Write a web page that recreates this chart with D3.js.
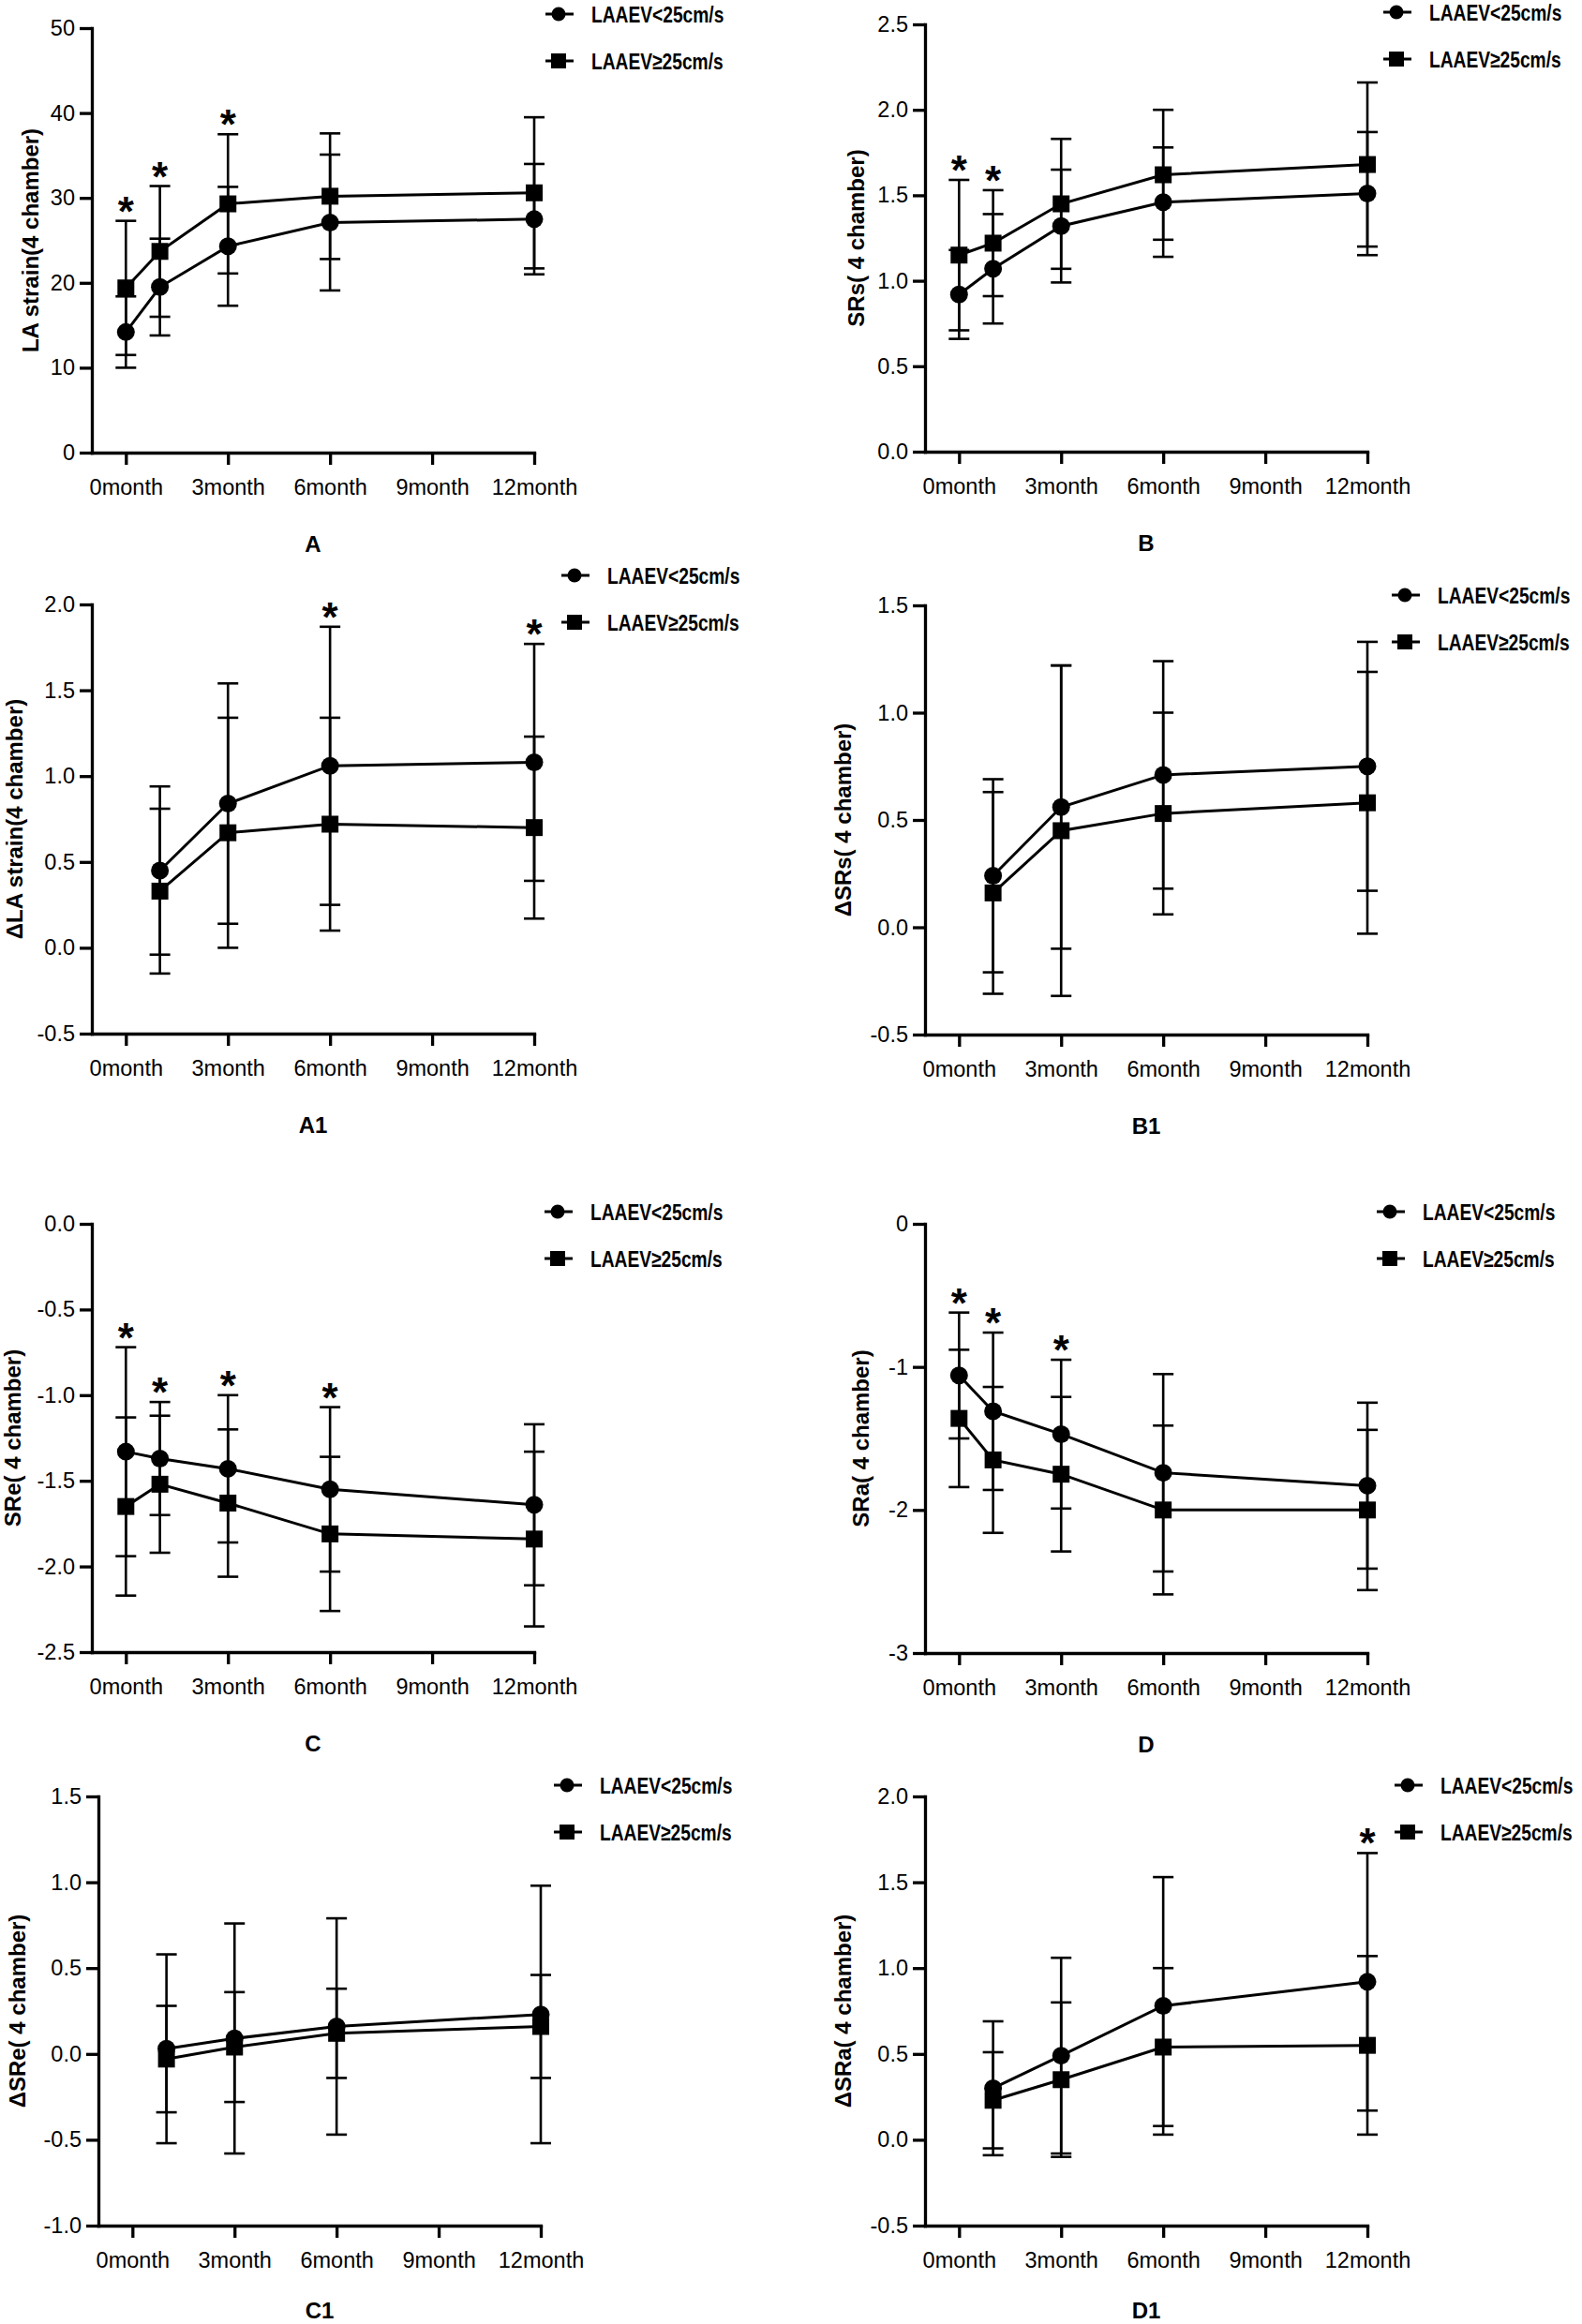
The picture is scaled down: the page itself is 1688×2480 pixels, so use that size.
<!DOCTYPE html>
<html><head><meta charset="utf-8">
<script src="https://cdn.jsdelivr.net/npm/d3@7"></script>
<style>body{margin:0;background:#fff}</style>
</head><body><svg id="chart" width="1688" height="2480" xmlns="http://www.w3.org/2000/svg"></svg>
<script>
// ---------- data ----------
const tickMonths = [0, 3, 6, 9, 12];
const tickLabels = ["0month", "3month", "6month", "9month", "12month"];
const seriesNames = ["LAAEV<25cm/s", "LAAEV\u226525cm/s"];
const monthsFull = [0, 1, 3, 6, 12];
const monthsDelta = [1, 3, 6, 12];

// A: LA strain
const A_low = [14.2, 19.5, 24.3, 27.1, 27.5];
const A_lowSD = [4.2, 5.7, 7.0, 8.0, 6.5];
const A_high = [19.4, 23.7, 29.3, 30.2, 30.6];
const A_highSD = [7.9, 7.7, 8.2, 7.4, 8.9];
const A_sig = [1, 1, 1, 0, 0];
const A_yTicks = [0, 10, 20, 30, 40, 50];

// B: SRs
const B_low = [0.92, 1.07, 1.32, 1.46, 1.51];
const B_lowSD = [0.26, 0.32, 0.33, 0.32, 0.36];
const B_high = [1.15, 1.22, 1.45, 1.62, 1.68];
const B_highSD = [0.44, 0.31, 0.38, 0.38, 0.48];
const B_sig = [1, 1, 0, 0, 0];
const B_yTicks = [0, 0.5, 1.0, 1.5, 2.0, 2.5];

// A1: delta LA strain
const A1_low = [0.45, 0.84, 1.06, 1.08];
const A1_lowSD = [0.49, 0.70, 0.81, 0.69];
const A1_high = [0.33, 0.67, 0.72, 0.70];
const A1_highSD = [0.48, 0.67, 0.62, 0.53];
const A1_sig = [0, 0, 1, 1];
const A1_yTicks = [-0.5, 0, 0.5, 1.0, 1.5, 2.0];

// B1: delta SRs
const B1_low = [0.24, 0.56, 0.71, 0.75];
const B1_lowSD = [0.45, 0.66, 0.53, 0.58];
const B1_high = [0.16, 0.45, 0.53, 0.58];
const B1_highSD = [0.47, 0.77, 0.47, 0.61];
const B1_sig = [0, 0, 0, 0];
const B1_yTicks = [-0.5, 0, 0.5, 1.0, 1.5];

// C: SRe
const C_low = [-1.33, -1.37, -1.43, -1.55, -1.64];
const C_lowSD = [0.61, 0.33, 0.43, 0.48, 0.47];
const C_high = [-1.65, -1.52, -1.63, -1.81, -1.84];
const C_highSD = [0.52, 0.40, 0.43, 0.45, 0.51];
const C_sig = [1, 1, 1, 1, 0];
const C_yTicks = [-2.5, -2.0, -1.5, -1.0, -0.5, 0];

// D: SRa
const D_low = [-1.06, -1.31, -1.47, -1.74, -1.83];
const D_lowSD = [0.44, 0.55, 0.52, 0.69, 0.58];
const D_high = [-1.36, -1.65, -1.75, -2.00, -2.00];
const D_highSD = [0.48, 0.51, 0.54, 0.59, 0.56];
const D_sig = [1, 1, 1, 0, 0];
const D_yTicks = [-3, -2, -1, 0];

// C1: delta SRe
const C1_low = [0.03, 0.09, 0.16, 0.23];
const C1_lowSD = [0.55, 0.67, 0.63, 0.75];
const C1_high = [-0.03, 0.04, 0.12, 0.16];
const C1_highSD = [0.31, 0.32, 0.26, 0.30];
const C1_sig = [0, 0, 0, 0];
const C1_yTicks = [-1.0, -0.5, 0, 0.5, 1.0, 1.5];

// D1: delta SRa
const D1_low = [0.30, 0.49, 0.78, 0.92];
const D1_lowSD = [0.39, 0.57, 0.75, 0.75];
const D1_high = [0.23, 0.35, 0.54, 0.55];
const D1_highSD = [0.28, 0.45, 0.46, 0.52];
const D1_sig = [0, 0, 0, 1];
const D1_yTicks = [-0.5, 0, 0.5, 1.0, 1.5, 2.0];

// ---------- panel definitions ----------
const f1 = v => d3.format(".1f")(v).replace("\u2212", "-");
const f0 = v => d3.format("d")(v).replace("\u2212", "-");

const panels = [
  {letter: "A", ylabel: "LA strain(4 chamber)", months: monthsFull, low: A_low, lowSD: A_lowSD, high: A_high, highSD: A_highSD, sig: A_sig, yTicks: A_yTicks, fmt: f0,
   L: {axisX: 98, yTop: 30, yBot: 483, legDX: 498, legDY: -15, ylabDX: -65, letDY: 97}},
  {letter: "B", ylabel: "SRs( 4 chamber)", months: monthsFull, low: B_low, lowSD: B_lowSD, high: B_high, highSD: B_highSD, sig: B_sig, yTicks: B_yTicks, fmt: f1,
   L: {axisX: 987, yTop: 26, yBot: 482, legDX: 503, legDY: -13, ylabDX: -73, letDY: 97}},
  {letter: "A1", ylabel: "\u0394LA strain(4 chamber)", months: monthsDelta, low: A1_low, lowSD: A1_lowSD, high: A1_high, highSD: A1_highSD, sig: A1_sig, yTicks: A1_yTicks, fmt: f1,
   L: {axisX: 98, yTop: 645, yBot: 1103, legDX: 515, legDY: -31, ylabDX: -82, letDY: 97}},
  {letter: "B1", ylabel: "\u0394SRs( 4 chamber)", months: monthsDelta, low: B1_low, lowSD: B1_lowSD, high: B1_high, highSD: B1_highSD, sig: B1_sig, yTicks: B1_yTicks, fmt: f1,
   L: {axisX: 987, yTop: 646, yBot: 1104, legDX: 512, legDY: -11, ylabDX: -87, letDY: 97}},
  {letter: "C", ylabel: "SRe( 4 chamber)", months: monthsFull, low: C_low, lowSD: C_lowSD, high: C_high, highSD: C_highSD, sig: C_sig, yTicks: C_yTicks, fmt: f1,
   L: {axisX: 98, yTop: 1306, yBot: 1763, legDX: 497, legDY: -13, ylabDX: -84, letDY: 97}},
  {letter: "D", ylabel: "SRa( 4 chamber)", months: monthsFull, low: D_low, lowSD: D_lowSD, high: D_high, highSD: D_highSD, sig: D_sig, yTicks: D_yTicks, fmt: f0,
   L: {axisX: 987, yTop: 1306, yBot: 1764, legDX: 496, legDY: -13, ylabDX: -68, letDY: 97}},
  {letter: "C1", ylabel: "\u0394SRe( 4 chamber)", months: monthsDelta, low: C1_low, lowSD: C1_lowSD, high: C1_high, highSD: C1_highSD, sig: C1_sig, yTicks: C1_yTicks, fmt: f1,
   L: {axisX: 105, yTop: 1917, yBot: 2375, legDX: 500, legDY: -12, ylabDX: -86, letDY: 90}},
  {letter: "D1", ylabel: "\u0394SRa( 4 chamber)", months: monthsDelta, low: D1_low, lowSD: D1_lowSD, high: D1_high, highSD: D1_highSD, sig: D1_sig, yTicks: D1_yTicks, fmt: f1,
   L: {axisX: 987, yTop: 1917, yBot: 2375, legDX: 515, legDY: -12, ylabDX: -87, letDY: 90}}
];

// ---------- drawing ----------
const svg = d3.select("#chart");
svg.append("rect").attr("width", 1688).attr("height", 2480).attr("fill", "#fff");

const FONT = "'Liberation Sans', Arial, Helvetica, sans-serif";
const PLOT_W = 472, TICK = 13, AXW = 3.3, LW = 3, EBW = 2.6, CAP = 11, CR = 9.5, SQ = 18;

function drawMarker(g, type, cx, cy, r, s) {
  if (type === 0) g.append("circle").attr("cx", cx).attr("cy", cy).attr("r", r).attr("fill", "#000");
  else g.append("rect").attr("x", cx - s / 2).attr("y", cy - s / 2).attr("width", s).attr("height", s).attr("fill", "#000");
}

panels.forEach(p => {
  const L = p.L;
  const g = svg.append("g");
  const x = d3.scaleLinear().domain([-1, 12]).range([L.axisX, L.axisX + PLOT_W]);
  const yMin = d3.min(p.yTicks), yMax = d3.max(p.yTicks);
  const y = d3.scaleLinear().domain([yMin, yMax]).range([L.yBot, L.yTop]);

  // axes
  const yAxis = d3.axisLeft(y).tickValues(p.yTicks).tickFormat(p.fmt).tickSize(TICK).tickSizeOuter(0).tickPadding(5);
  const xAxis = d3.axisBottom(x).tickValues(tickMonths).tickFormat((d, i) => tickLabels[i]).tickSize(TICK).tickSizeOuter(0).tickPadding(15);
  const gx = g.append("g").attr("transform", `translate(0,${L.yBot})`).call(xAxis);
  const gy = g.append("g").attr("transform", `translate(${L.axisX},0)`).call(yAxis);
  [gx, gy].forEach(a => {
    a.attr("font-family", FONT).attr("font-size", 23.5);
    a.select(".domain").attr("stroke", "#000").attr("stroke-width", AXW).attr("stroke-linecap", "square");
    a.selectAll(".tick line").attr("stroke", "#000").attr("stroke-width", AXW);
    a.selectAll(".tick text").attr("fill", "#000");
  });

  // series
  const series = [
    {mean: p.low, sd: p.lowSD, type: 0},
    {mean: p.high, sd: p.highSD, type: 1}
  ];
  // error bars
  series.forEach(s => {
    s.mean.forEach((m, i) => {
      const cx = x(p.months[i]);
      const yu = y(m + s.sd[i]), yl = y(m - s.sd[i]);
      g.append("line").attr("x1", cx).attr("x2", cx).attr("y1", yu).attr("y2", yl)
        .attr("stroke", "#000").attr("stroke-width", EBW);
      [yu, yl].forEach(yy => g.append("line").attr("x1", cx - CAP).attr("x2", cx + CAP).attr("y1", yy).attr("y2", yy)
        .attr("stroke", "#000").attr("stroke-width", EBW));
    });
  });
  // lines + markers
  series.forEach(s => {
    const line = d3.line().x((d, i) => x(p.months[i])).y(d => y(d));
    g.append("path").attr("d", line(s.mean)).attr("fill", "none").attr("stroke", "#000").attr("stroke-width", LW);
    s.mean.forEach((m, i) => drawMarker(g, s.type, x(p.months[i]), y(m), CR, SQ));
  });

  // significance asterisks
  p.sig.forEach((sg, i) => {
    if (!sg) return;
    const top = Math.max(p.low[i] + p.lowSD[i], p.high[i] + p.highSD[i]);
    g.append("text").attr("x", x(p.months[i])).attr("y", y(top) - 19 + 24)
      .attr("text-anchor", "middle").attr("font-family", FONT).attr("font-weight", "bold")
      .attr("font-size", 44).attr("fill", "#000").text("*");
  });

  // y label
  const yc = (L.yTop + L.yBot) / 2, xc = L.axisX + L.ylabDX;
  g.append("text").attr("transform", `translate(${xc},${yc}) rotate(-90)`)
    .attr("text-anchor", "middle").attr("dy", "0.35em")
    .attr("font-family", FONT).attr("font-weight", "bold").attr("font-size", 24).attr("fill", "#000")
    .text(p.ylabel);

  // legend (condensed bold text)
  const lx = L.axisX + L.legDX, ly = L.yTop + L.legDY;
  series.forEach((s, k) => {
    const yy = ly + k * 50;
    g.append("line").attr("x1", lx - 14).attr("x2", lx + 16).attr("y1", yy).attr("y2", yy)
      .attr("stroke", "#000").attr("stroke-width", LW);
    drawMarker(g, s.type, lx, yy, 7.5, 16);
    g.append("text").attr("transform", `translate(${lx + 35},${yy}) scale(0.8,1)`).attr("dy", "0.36em")
      .attr("font-family", FONT).attr("font-weight", "bold").attr("font-size", 24).attr("fill", "#000")
      .text(seriesNames[k]);
  });

  // panel letter
  g.append("text").attr("x", L.axisX + PLOT_W / 2).attr("y", L.yBot + L.letDY).attr("dy", "0.36em")
    .attr("text-anchor", "middle").attr("font-family", FONT).attr("font-weight", "bold")
    .attr("font-size", 24).attr("fill", "#000").text(p.letter);
});
</script>
</body></html>
